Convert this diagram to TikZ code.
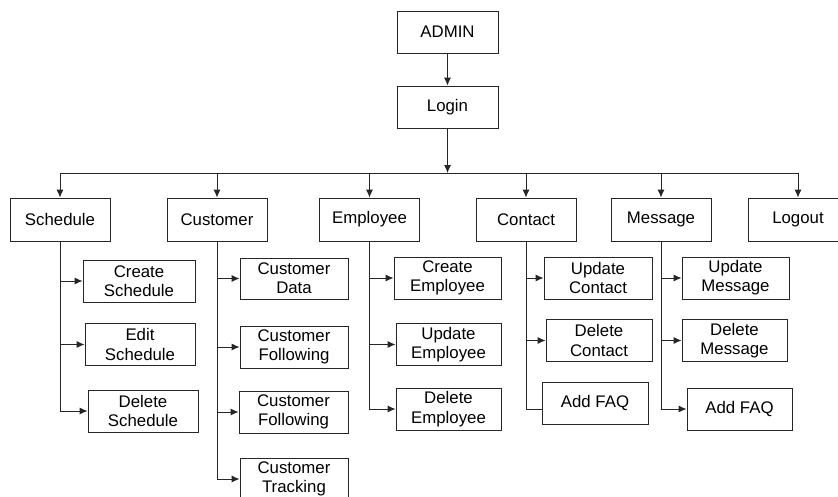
\documentclass[tikz,border=0pt]{standalone}
\usepackage{fontspec}
\setmainfont{Liberation Sans}
\usetikzlibrary{arrows.meta}

\tikzset{
  box/.style={draw=black!85, line width=0.9pt, rectangle, inner sep=0pt,
    align=center, font=\fontsize{16.8}{19.3}\selectfont,
    minimum height=42pt},
  link/.style={draw=black!85, line width=0.9pt},
  arr/.style={link, -{Latex[length=8pt,width=7pt]}}
}

\begin{document}
\begin{tikzpicture}[x=1pt,y=-1pt]
  \path[use as bounding box, fill=white] (0,0) rectangle (838,496);
  \clip (0,0) rectangle (838,496);

  % root chain
  \node[box, minimum width=101pt] (admin) at (447.5,32) {ADMIN};
  \node[box, minimum width=101pt] (login) at (447.5,107) {Login};
  \coordinate (bus) at (447.5,173);

  % menu level
  \node[box, minimum width=100pt, minimum height=43pt] (schedule) at (60,219.5) {Schedule};
  \node[box, minimum width=100pt, minimum height=43pt] (customer) at (217,219.5) {Customer};
  \node[box, minimum width=100pt, minimum height=43pt] (employee) at (369.5,219.5) {Employee};
  \node[box, minimum width=100pt, minimum height=43pt] (contact) at (526,219.5) {Contact};
  \node[box, minimum width=100pt, minimum height=43pt] (message) at (661,219.5) {Message};
  \node[box, minimum width=100pt, minimum height=43pt] (logout) at (798,219.5) {Logout};

  % schedule items
  \node[box, minimum width=112pt] (cs) at (139,281) {Create\\Schedule};
  \node[box, minimum width=110pt] (es) at (140,344.5) {Edit\\Schedule};
  \node[box, minimum width=110pt] (ds) at (143,411) {Delete\\Schedule};

  % customer items
  \node[box, minimum width=108pt, minimum height=41pt] (cd) at (294,278.5) {Customer\\Data};
  \node[box, minimum width=108pt] (cf1) at (294,347) {Customer\\Following};
  \node[box, minimum width=109pt] (cf2) at (293.5,412) {Customer\\Following};
  \node[box, minimum width=108pt] (ct) at (294,479) {Customer\\Tracking};

  % employee items
  \node[box, minimum width=107pt] (ce) at (447.5,278) {Create\\Employee};
  \node[box, minimum width=105pt] (ue) at (448.5,344.5) {Update\\Employee};
  \node[box, minimum width=105pt] (de) at (448.5,409) {Delete\\Employee};

  % contact items
  \node[box, minimum width=108pt] (uc) at (598,278) {Update\\Contact};
  \node[box, minimum width=106pt] (dc) at (599,340.5) {Delete\\Contact};
  \node[box, minimum width=106pt] (fc) at (595,403) {Add FAQ};

  % message items
  \node[box, minimum width=107pt] (um) at (735.5,278) {Update\\Message};
  \node[box, minimum width=105pt] (dm) at (734.5,340.5) {Delete\\Message};
  \node[box, minimum width=105pt] (fm) at (739.5,409) {Add FAQ};

  % top connectors
  \draw[arr] (admin) -- (login);
  \draw[arr] (login) -- (bus);
  \draw[link] (schedule.north |- bus) -- (logout.north |- bus);
  \foreach \n in {schedule,customer,employee,contact,message,logout}
    \draw[arr] (\n.north |- bus) -- (\n.north);

  % branch connectors
  \foreach \p/\c in {schedule/cs, schedule/es, schedule/ds,
                     customer/cd, customer/cf1, customer/cf2, customer/ct,
                     employee/ce, employee/ue, employee/de,
                     contact/uc, contact/dc,
                     message/um, message/dm, message/fm}
    \draw[arr] (\p.south) |- (\c.west);
  \draw[link] (contact.south) |- ([yshift=-6pt]fc.west);
\end{tikzpicture}
\end{document}
